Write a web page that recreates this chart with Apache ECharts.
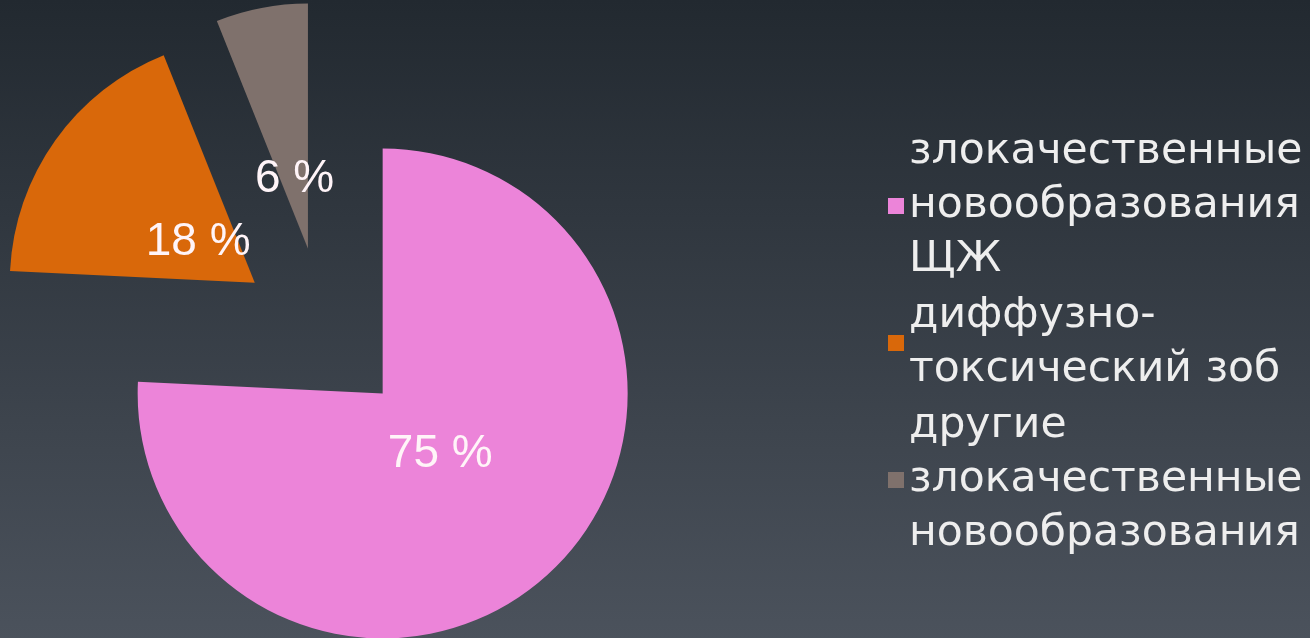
<!DOCTYPE html>
<html>
<head>
<meta charset="utf-8">
<script src="https://cdn.jsdelivr.net/npm/echarts@6/dist/echarts.min.js"></script>
<style>
    html, body { margin: 0; padding: 0; }
    #chart { width: 1310px; height: 638px; }
</style>
</head>
<body>
<div id="chart"></div>
<script>
    // данные с диаграммы
    const categories = [
        'злокачественные\nновообразования\nЩЖ',
        'диффузно-\nтоксический зоб',
        'другие\nзлокачественные\nновообразования'
    ];
    const values = [75, 18, 6];
    const colors = ['#ec84d9', '#d9680a', '#7f716c'];

    // средний угол каждого сектора (по часовой от 12 часов), чтобы сдвинуть подписи к центру
    const total = values.reduce((a, b) => a + b, 0);
    let acc = 0;
    const midAngles = values.map(v => {
        const m = (acc + v / 2) / total * 360;
        acc += v;
        return m;
    });

    let myChart = echarts.init(document.getElementById('chart'));
    let option = {
        animation: false,
        backgroundColor: {
            type: 'linear', x: 0, y: 0, x2: 0, y2: 1,
            colorStops: [
                {offset: 0, color: '#222930'},
                {offset: 1, color: '#4b525c'}
            ]
        },
        color: colors,
        legend: {
            orient: 'vertical',
            left: 883,
            top: 120,
            itemWidth: 16,
            itemHeight: 16,
            itemGap: 2,
            icon: 'rect',
            selectedMode: false,
            textStyle: {
                color: '#eeeeee',
                fontFamily: 'DejaVu Sans',
                fontSize: 42.5,
                lineHeight: 54,
                padding: [0, 0, 0, 0]
            },
            data: categories
        },
        series: [
            {
                type: 'pie',
                center: [324, 332],
                radius: [0, 245],
                startAngle: 90,
                clockwise: true,
                selectedMode: 'multiple',
                selectedOffset: 85,
                emphasis: {disabled: true},
                label: {
                    position: 'inner',
                    formatter: '{c} %',
                    color: '#fff4f8',
                    fontFamily: 'Liberation Sans',
                    fontSize: 46
                },
                labelLine: {show: false},
                labelLayout: function (p) {
                    // насколько подпись сдвинута к вершине сектора
                    const k = [42, 56, 55][p.dataIndex];
                    const a = midAngles[p.dataIndex] * Math.PI / 180;
                    return {dx: -Math.sin(a) * k, dy: Math.cos(a) * k};
                },
                data: categories.map((name, i) => ({name: name, value: values[i], selected: true}))
            }
        ]
    };
    myChart.setOption(option);
</script>
</body>
</html>
